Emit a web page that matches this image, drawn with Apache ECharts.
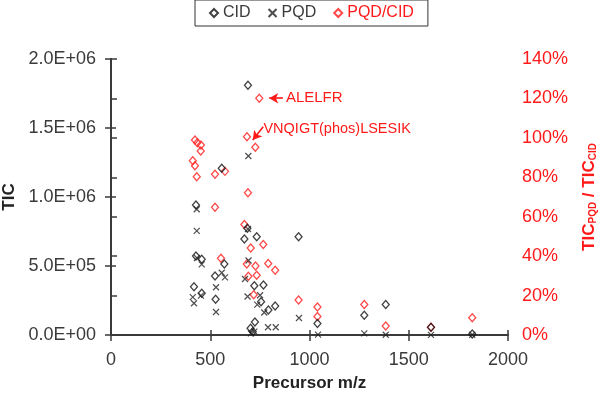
<!DOCTYPE html>
<html>
<head>
<meta charset="utf-8">
<script src="https://cdn.jsdelivr.net/npm/echarts@6/dist/echarts.min.js"></script>
<style>
  html, body { margin: 0; padding: 0; background: #fff; }
  #chart { width: 600px; height: 400px; }
</style>
</head>
<body>
<div id="chart"></div>
<script>
// CID total ion current vs precursor m/z
const cidMz = [428, 428, 457, 558, 571, 524, 418, 457, 527, 690, 687, 672, 734, 722, 768, 756, 793, 827, 725, 703, 714, 945, 1040, 1276, 1384, 1612, 1820]
const cidTic = [942000, 572000, 549000, 1208000, 514000, 428000, 350000, 302000, 259000, 1810000, 773000, 696000, 712000, 357000, 362000, 241000, 181000, 210000, 94000, 49000, 24000, 712000, 83000, 143000, 221000, 56000, 8000]

// PQD total ion current
const pqdMz = [432, 432, 457, 433, 558, 574, 529, 529, 412, 418, 453, 692, 693, 675, 688, 751, 737, 772, 705, 722, 791, 830, 947, 1043, 1276, 1384, 1612, 1820, 690]
const pqdTic = [911000, 754000, 512000, 558000, 451000, 418000, 346000, 167000, 275000, 230000, 285000, 1297000, 540000, 406000, 279000, 288000, 220000, 163000, 12000, 24000, 56000, 56000, 123000, 3000, 12000, 2000, 1000, 2000, 768000]

// PQD/CID ratio, percent
const ratioMz = [423, 435, 453, 452, 412, 423, 432, 524, 574, 524, 554, 747, 685, 727, 690, 672, 704, 767, 684, 728, 792, 827, 692, 734, 719, 945, 1040, 1040, 1276, 1384, 1612, 1820]
const ratioPct = [98.9, 97.5, 96.4, 93.3, 88.4, 85.9, 80.3, 81.5, 83.0, 64.8, 38.9, 120.1, 100.6, 95.2, 72.2, 56.1, 44.1, 45.9, 36.0, 35.0, 36.3, 32.8, 29.8, 30.3, 20.4, 17.8, 14.2, 9.4, 15.5, 4.6, 3.9, 8.8]

const xTicks = [0, 500, 1000, 1500, 2000]

const RED = '#ff1a1a'
const INK = '#3a3a3a'
const FONT = 'Liberation Sans, Arial, sans-serif'
const CROSS = 'path://M0,0L10,10M10,0L0,10'

function pairs(xs, ys) {
  return xs.map(function (x, i) { return [x, ys[i]] })
}

function sciLabel(v) {
  return v.toExponential(1).toUpperCase().replace(/E([+-])(\d)$/, 'E$10$2')
}

const chart = echarts.init(document.getElementById('chart'))

const option = {
  animation: false,
  backgroundColor: '#fff',
  textStyle: { fontFamily: FONT },
  legend: {
    left: 195,
    top: 0,
    padding: [5, 14],
    itemGap: 17,
    itemWidth: 8,
    itemHeight: 8,
    borderColor: '#333',
    borderWidth: 1,
    textStyle: { fontSize: 16, color: INK, fontFamily: FONT },
    data: [
      { name: 'CID' },
      { name: 'PQD' },
      { name: 'PQD/CID', textStyle: { color: RED } }
    ]
  },
  grid: { left: 111, right: 92, top: 59, bottom: 65, containLabel: false, outerBoundsMode: 'none' },
  xAxis: [{
    type: 'value',
    min: 0,
    max: 2000,
    interval: 500,
    name: 'Precursor m/z',
    nameLocation: 'middle',
    nameGap: 40,
    nameTextStyle: { fontSize: 17, fontWeight: 'bold', color: '#222', fontFamily: FONT },
    axisLine: { lineStyle: { color: INK, width: 2 } },
    axisTick: { length: 6, lineStyle: { color: INK, width: 1.5 } },
    axisLabel: { fontSize: 18, color: INK, margin: 16,
      formatter: function (v) { return xTicks.indexOf(v) >= 0 ? String(v) : '' } },
    splitLine: { show: false }
  }, {
    type: 'value',
    position: 'bottom',
    min: 0,
    max: 2000,
    interval: 500,
    axisLine: { show: false },
    axisTick: { inside: true, length: 5, lineStyle: { color: INK, width: 1.5 } },
    axisLabel: { show: false },
    splitLine: { show: false }
  }],
  yAxis: [{
    type: 'value',
    min: 0,
    max: 2000000,
    interval: 500000,
    name: 'TIC',
    nameLocation: 'middle',
    nameRotate: 90,
    nameGap: 93,
    nameTextStyle: { fontSize: 17, fontWeight: 'bold', color: '#222', fontFamily: FONT },
    axisLine: { show: true, lineStyle: { color: INK, width: 2 } },
    axisTick: { show: true, length: 6, lineStyle: { color: INK, width: 1.5 } },
    axisLabel: { fontSize: 18, color: INK, margin: 15, formatter: sciLabel },
    splitLine: { show: false }
  }, {
    type: 'value',
    position: 'right',
    min: 0,
    max: 140,
    interval: 20,
    name: '{a|TIC}{s|PQD}{a| / TIC}{s|CID}',
    nameLocation: 'middle',
    nameRotate: 90,
    nameGap: 73,
    nameTextStyle: {
      color: RED,
      fontFamily: FONT,
      rich: {
        a: { fontSize: 17, fontWeight: 'bold', color: RED, fontFamily: FONT },
        s: { fontSize: 10, fontWeight: 'bold', color: RED, fontFamily: FONT, verticalAlign: 'bottom' }
      }
    },
    axisLine: { show: true, lineStyle: { color: INK, width: 2 } },
    axisTick: { show: true, length: 6, lineStyle: { color: INK, width: 1.5 } },
    axisLabel: { fontSize: 18, color: RED, margin: 14, formatter: '{value}%' },
    splitLine: { show: false }
  }, {
    type: 'value',
    position: 'left',
    min: 0,
    max: 2000000,
    interval: 500000,
    axisLine: { show: false },
    axisTick: { show: true, inside: true, length: 5, lineStyle: { color: INK, width: 1.5 } },
    axisLabel: { show: false },
    splitLine: { show: false }
  }],
  series: [{
    name: 'CID',
    type: 'scatter',
    symbol: 'diamond',
    symbolSize: [7, 8],
    itemStyle: { color: 'transparent', borderColor: '#111', borderWidth: 1.3 },
    data: pairs(cidMz, cidTic),
    z: 3
  }, {
    name: 'PQD',
    type: 'scatter',
    symbol: CROSS,
    symbolSize: 6,
    itemStyle: { color: 'transparent', borderColor: '#222', borderWidth: 1.2 },
    data: pairs(pqdMz, pqdTic),
    z: 3
  }, {
    name: 'PQD/CID',
    type: 'scatter',
    yAxisIndex: 1,
    symbol: 'diamond',
    symbolSize: [7, 8],
    itemStyle: { color: 'transparent', borderColor: RED, borderWidth: 1.3 },
    data: pairs(ratioMz, ratioPct),
    z: 2,
    markLine: {
      silent: true,
      symbol: ['none', 'arrow'],
      symbolSize: [8, 9],
      label: { show: false },
      lineStyle: { color: RED, width: 1.6, type: 'solid' },
      data: [
        [{ coord: [866, 120.1] }, { coord: [797, 120.1] }],
        [{ coord: [767, 105.6] }, { coord: [714, 98.9] }]
      ]
    },
    markPoint: {
      silent: true,
      symbol: 'circle',
      symbolSize: 0,
      label: { show: true, position: 'right', distance: 0, color: RED, fontSize: 14.5, fontFamily: FONT },
      data: [
        { coord: [881, 120.5], label: { formatter: 'ALELFR', fontSize: 15 } },
        { coord: [768, 104.7], label: { formatter: 'VNQIGT(phos)LSESIK' } }
      ]
    }
  }]
}

chart.setOption(option)
</script>
</body>
</html>
